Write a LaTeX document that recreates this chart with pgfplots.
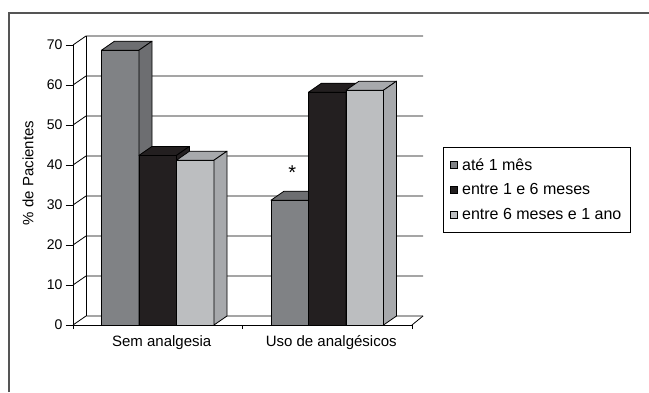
\documentclass[border=0pt]{standalone}
\usepackage{fontspec}
\setmainfont{Liberation Sans}
\usepackage{pgfplots}
\usepackage{pgfplotstable}
\pgfplotsset{compat=1.18}

\definecolor{darkbar}{HTML}{808285}
\definecolor{darkbartop}{HTML}{6D6E71}
\definecolor{blackbar}{HTML}{231F20}
\definecolor{lightbar}{HTML}{BCBEC0}
\definecolor{lightbartop}{HTML}{A7A9AC}
\definecolor{framegray}{HTML}{555555}

% share of patients per group and time since onset
\pgfplotstableread{
x  early  mid   late
1  68.7   42.4  41.2
2  31.2   58.2  58.7
}\painstudy

\pgfdeclareplotmark{blank}{}

\pgfplotsset{
  % complete pseudo-3D column (front, top and side faces) at each data point
  % #1 = bar shift, #2 = front colour, #3 = top and side colour
  column3d/.style n args={3}{
    scatter, only marks, mark=blank, forget plot,
    visualization depends on={rawy \as \barval},
    scatter/@pre marker code/.code={%
      \pgfmathsetmacro\barh{4*\barval}%
      \pgfmathsetmacro\bl{#1-18.75}%
      \pgfmathsetmacro\br{#1+18.75}%
      \filldraw[fill=#2, draw=black, line width=0.8pt, line join=round]
        (\bl pt,0pt) rectangle (\br pt,-\barh pt);
      \filldraw[fill=#3, draw=black, line width=0.8pt, line join=round]
        (\bl pt,0pt) -- ++(13pt,9pt) -- ++(37.5pt,0pt) -- ++(-13pt,-9pt) -- cycle;
      \filldraw[fill=#3, draw=black, line width=0.8pt, line join=round]
        (\br pt,0pt) -- ++(13pt,9pt) -- ++(0pt,-\barh pt) -- ++(-13pt,-9pt) -- cycle;
    },
    scatter/@post marker code/.code={},
  },
  sqlegend/.style={legend image code/.code={%
    \draw[##1, draw=black, line width=0.6pt] (5pt,-3.5pt) rectangle (12pt,3.5pt);
    \path (14pt,0pt);}},
  frontbar/.style={ybar, bar width=37.5pt, draw=black, line width=0.8pt, sqlegend},
}

\begin{document}
\begin{tikzpicture}[font=\fontsize{15}{18}\selectfont]
\path[use as bounding box] (0pt,0pt) rectangle (649pt,392pt);
\draw[framegray, line width=1.3pt] (9pt,0pt) -- (9pt,379pt) -- (649pt,379pt);
\begin{axis}[
  at={(73pt,67pt)}, anchor=south west,
  scale only axis, width=339pt, height=280pt,
  xmin=0.5, xmax=2.5, ymin=0, ymax=70,
  clip=false,
  axis x line*=bottom, axis y line*=left,
  axis line style={line width=0.8pt, black},
  every tick/.style={black, line width=0.8pt},
  tick align=outside,
  ytick={0,10,...,70}, major tick length=7pt,
  xtick={1,2},
  xticklabels={Sem analgesia, Uso de analgésicos},
  x tick style={draw=none},
  extra x ticks={0.5,1.5,2.5},
  extra x tick labels={},
  extra x tick style={major tick length=4pt, x tick style={draw=black}},
  yticklabel style={font=\fontsize{14}{16}\selectfont},
  xticklabel style={xshift=4pt},
  /pgf/number format/assume math mode=true,
  ylabel={\% de Pacientes},
  every axis y label/.style={at={(axis description cs:-0.133,0.543)}, rotate=90, anchor=center},
  legend style={at={(axis description cs:1.0914,0.6357)}, anchor=north west,
    draw=black, line width=0.9pt, font=\fontsize{16}{19}\selectfont,
    row sep=8pt, inner xsep=7pt, inner ysep=9pt},
  legend cell align=left,
]
% back wall, side wall and floor of the box
\pgfplotsinvokeforeach{0,10,...,70}{
  \draw[black, line width=0.8pt] (axis cs:0.5,#1) -- ++(13pt,9pt) -- ++(337pt,0pt);
}
\draw[black, line width=0.8pt] (axis cs:0.5,0) ++(13pt,9pt) -- ++(0pt,280pt);
\draw[black, line width=0.8pt] (axis cs:2.5,0) -- ++(11pt,9pt);

\addplot[frontbar, bar shift=-37.5pt, fill=darkbar] table[x=x,y=early]{\painstudy};
\addlegendentry{até 1 mês}
\addplot[frontbar, bar shift=0pt, fill=blackbar] table[x=x,y=mid]{\painstudy};
\addlegendentry{entre 1 e 6 meses}
\addplot[frontbar, bar shift=37.5pt, fill=lightbar] table[x=x,y=late]{\painstudy};
\addlegendentry{entre 6 meses e 1 ano}

\addplot[column3d={-37.5}{darkbar}{darkbartop}] table[x=x,y=early]{\painstudy};
\addplot[column3d={0}{blackbar}{blackbar}] table[x=x,y=mid]{\painstudy};
\addplot[column3d={37.5}{lightbar}{lightbartop}] table[x=x,y=late]{\painstudy};

\node[font=\fontsize{20}{22}\selectfont] at (axis cs:2,38) [xshift=-35pt] {*};
\end{axis}
\end{tikzpicture}
\end{document}
